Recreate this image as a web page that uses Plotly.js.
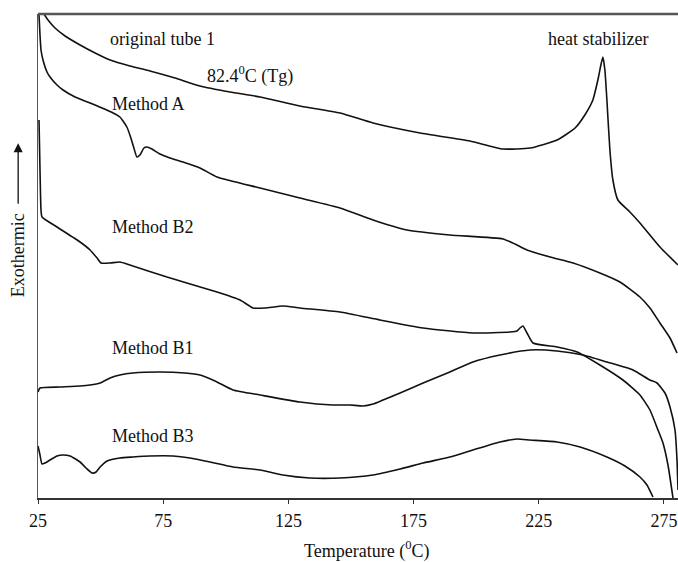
<!DOCTYPE html>
<html>
<head>
<meta charset="utf-8">
<script src="https://cdn.plot.ly/plotly-3.0.1.min.js"></script>
<style>html,body{margin:0;padding:0;background:#fff;}#chart{width:678px;height:562px;}</style>
</head>
<body>
<div id="chart"></div>
<script>
// Temperature (°C) and heat flow (arbitrary units, exothermic up)
const origT = [27.4,29.0,31.8,35.8,41.8,47.8,53.8,61.7,69.7,79.7,89.7,101.7,113.7,129.6,145.6,158.8,177.6,197.5,210.7,221.5,232.3,239.5,243.4,246.6,248.6,249.8,250.6,251.4,252.2,253.4,254.6,256.6,261.4,265.4,273.4,280.6];
const origHF = [48.4,47.8,47.0,46.2,45.3,44.5,43.8,43.2,42.7,42.0,41.2,40.6,40.1,39.2,38.5,37.5,36.5,35.7,34.9,35.0,35.8,37.0,38.3,39.8,41.8,43.3,44.1,42.8,39.8,34.8,31.8,29.8,28.6,27.5,25.1,23.3];

const aT = [25.4,25.8,26.2,27.0,28.6,29.8,32.6,35.0,39.8,45.8,55.0,57.7,60.5,62.1,63.3,64.5,65.7,67.3,68.5,70.5,73.7,77.7,82.9,89.7,96.5,113.7,129.6,145.6,158.8,172.4,189.5,210.7,215.5,220.3,229.5,238.7,249.4,257.4,265.4,269.4,273.4,277.4,280.2];
const aHF = [48.3,46.3,44.8,43.8,42.6,42.1,41.3,40.8,40.1,39.5,38.5,38.1,37.1,36.0,35.0,34.1,34.3,35.0,35.1,34.9,34.4,34.0,33.6,33.0,32.1,31.0,30.0,29.0,27.8,26.8,26.3,25.9,25.4,24.8,24.1,23.5,22.5,21.6,20.1,19.0,17.5,16.0,14.5];

const b2T = [25.4,25.8,26.2,26.6,32.6,41.8,45.8,48.6,50.2,53.8,57.7,61.7,76.5,96.5,105.7,110.9,115.7,122.8,129.6,145.6,161.6,178.8,198.7,213.5,216.3,217.5,218.7,220.3,222.7,232.3,240.3,249.4,258.6,265.4,269.4,272.6,274.6,276.6,278.6];
const b2HF = [37.8,32.8,28.8,28.1,27.1,25.6,24.8,24.0,23.5,23.5,23.6,23.3,22.1,20.6,19.8,19.0,19.0,19.2,19.0,18.6,17.8,17.0,16.5,16.6,16.7,17.0,17.2,16.5,15.5,15.1,14.6,13.3,11.8,10.3,8.8,6.8,5.5,3.3,0.0];

const b1T = [25.0,25.8,33.8,41.8,45.8,49.8,53.8,57.7,62.9,73.7,83.7,89.7,95.7,102.9,113.7,129.6,142.8,149.6,154.8,158.8,162.8,169.6,178.8,189.5,198.7,209.5,221.5,232.3,242.7,252.2,262.6,269.4,272.2,275.4,277.4,279.4,280.2,280.6];
const b1HF = [10.6,11.0,11.1,11.2,11.3,11.5,12.0,12.3,12.5,12.6,12.5,12.3,11.7,10.8,10.3,9.6,9.3,9.3,9.2,9.4,9.8,10.5,11.5,12.6,13.6,14.3,14.8,14.7,14.3,13.6,12.8,11.8,11.5,10.5,9.1,6.8,3.8,0.8];

const b3T = [25.0,25.8,26.6,27.8,29.8,32.6,35.0,37.8,41.8,44.2,46.6,48.2,49.8,52.6,57.7,62.9,69.7,78.9,85.7,93.7,102.9,113.7,122.8,133.6,145.6,158.8,169.6,178.8,189.5,198.7,209.5,216.3,221.5,232.3,241.5,252.2,259.4,265.4,268.2,270.6];
const b3HF = [5.2,4.3,3.4,3.5,3.8,4.2,4.3,4.2,3.6,3.0,2.5,2.6,3.1,3.7,4.0,4.1,4.2,4.2,4.0,3.6,3.1,2.8,2.3,2.0,2.0,2.3,2.9,3.5,4.1,4.8,5.6,5.9,5.8,5.6,5.1,4.1,3.2,2.1,1.3,0.1];

const tickVals = [25,75,125,175,225,275];
const tickText = ['25','75','125','175','225','275'];

const seriesNames = ['original tube 1','Method A','Method B2','Method B1','Method B3'];
const xs = [origT,aT,b2T,b1T,b3T];
const ys = [origHF,aHF,b2HF,b1HF,b3HF];

const FONT = 'Liberation Serif, Times New Roman, serif';
const FS = 18;
const traces = xs.map((x,i)=>({
  x:x, y:ys[i], type:'scatter', mode:'lines', name:seriesNames[i],
  line:{color:'#111', width:1.6, shape:'spline', smoothing:0.5},
  hoverinfo:'skip', cliponaxis:true
}));

const ann = (text,x,y)=>({text:text,x:x,y:y,xref:'x',yref:'y',showarrow:false,
  xanchor:'center',yanchor:'middle',font:{family:FONT,size:FS,color:'#111'}});

const layout = {
  width:678, height:562,
  margin:{l:38,r:0,t:14,b:64},
  paper_bgcolor:'#fff', plot_bgcolor:'#fff',
  showlegend:false,
  font:{family:FONT,size:FS,color:'#111'},
  xaxis:{range:[25,280.6], tickvals:tickVals, ticktext:tickText,
    showline:true, linecolor:'#333', linewidth:1.6, ticks:'outside', ticklen:4, tickcolor:'#333',
    ticklabelstandoff:2,
    showgrid:false, zeroline:false, tickfont:{family:FONT,size:FS,color:'#111'}},
  yaxis:{range:[0,48.4], showticklabels:false, ticks:'', showline:true, linecolor:'#555', linewidth:1.5,
    showgrid:false, zeroline:false},
  shapes:[{type:'line',xref:'paper',yref:'paper',x0:0,x1:1,y0:1,y1:1,line:{color:'#555',width:2.5}}],
  annotations:[
    ann('original tube 1',74.9,45.9),
    ann('82.4<sup>0</sup>C (Tg)',109.7,42.3),
    ann('Method A',69.3,39.4),
    ann('heat stabilizer',248.6,45.9),
    ann('Method B2',70.9,27.1),
    ann('Method B1',70.9,15.0),
    ann('Method B3',70.9,6.2),
    {text:'Temperature (<sup>0</sup>C)',xref:'paper',yref:'paper',x:0.514,y:-0.108,showarrow:false,
      xanchor:'center',yanchor:'middle',font:{family:FONT,size:FS,color:'#111'}},
    {text:'Exothermic',xref:'paper',yref:'paper',x:-0.031,y:0.502,textangle:-90,showarrow:false,
      xanchor:'center',yanchor:'middle',font:{family:FONT,size:FS,color:'#111'}},
    {text:'',xref:'paper',yref:'paper',x:-0.031,y:0.733,showarrow:true,ax:0,ay:62,
      arrowhead:2,arrowsize:1.4,arrowwidth:1.3,arrowcolor:'#111'}
  ]
};
Plotly.newPlot('chart',traces,layout,{staticPlot:true,displayModeBar:false});
</script>
</body>
</html>
